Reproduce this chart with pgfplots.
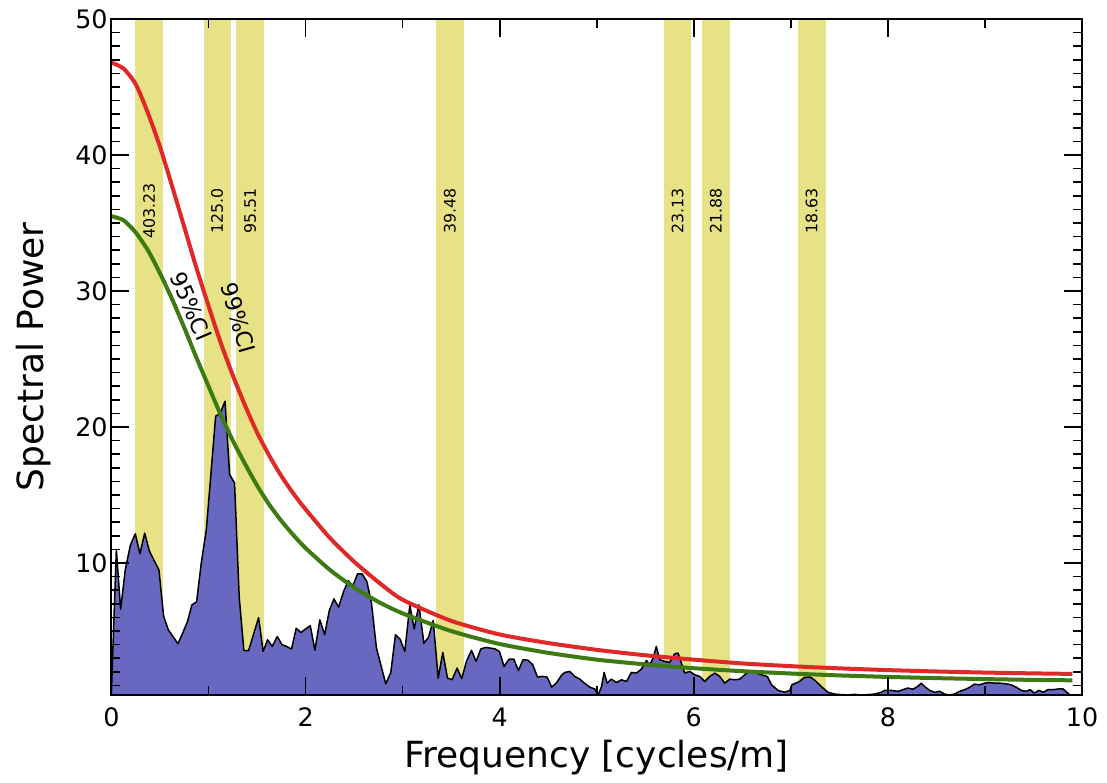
\documentclass[border=0pt]{standalone}
\usepackage{fontspec}
\setmainfont{DejaVu Sans}
\usepackage{pgfplots}
\pgfplotsset{compat=1.18}
\definecolor{bandc}{RGB}{232,226,134}
\definecolor{specblue}{RGB}{104,104,192}
\definecolor{cired}{RGB}{225,40,40}
\definecolor{cigreen}{RGB}{60,122,18}
\begin{document}
\begin{tikzpicture}
\begin{axis}[
  at={(0,0)}, anchor=south west,
  scale only axis, width=485.25pt, height=338pt,
  xmin=0, xmax=10, ymin=0.3, ymax=50,
  axis on top,
  axis line style={line width=1pt},
  xtick={0,2,4,6,8,10}, minor xtick={1,3,5,7,9},
  ytick={10,20,30,40,50},
  minor ytick={1,2,3,4,5,6,7,8,9,11,12,13,14,15,16,17,18,19,21,22,23,24,25,26,27,28,29,31,32,33,34,35,36,37,38,39,41,42,43,44,45,46,47,48,49},
  tick pos=both, tick align=inside,
  major tick length=9pt, minor tick length=4.5pt,
  every tick/.style={black, line width=0.8pt},
  ticklabel style={font=\fontsize{12.7}{15}\selectfont},
  /pgf/number format/assume math mode=true,
  yticklabel style={inner sep=0pt, xshift=-1.75pt},
  xticklabel style={inner sep=0pt, yshift=-6.25pt},
  xlabel={Frequency [cycles/m]}, ylabel={Spectral Power},
  label style={font=\fontsize{18}{22}\selectfont},
  xlabel style={at={(axis description cs:0.5,-0.1065)}, anchor=base},
  ylabel style={at={(axis description cs:-0.0696,0.5)}, anchor=base},
]
% significance bands
\addplot[fill=bandc, draw=none] coordinates {(0.245,0) (0.245,51) (0.530,51) (0.530,0)} -- cycle;
\addplot[fill=bandc, draw=none] coordinates {(0.950,0) (0.950,51) (1.228,51) (1.228,0)} -- cycle;
\addplot[fill=bandc, draw=none] coordinates {(1.285,0) (1.285,51) (1.571,51) (1.571,0)} -- cycle;
\addplot[fill=bandc, draw=none] coordinates {(3.342,0) (3.342,51) (3.630,51) (3.630,0)} -- cycle;
\addplot[fill=bandc, draw=none] coordinates {(5.690,0) (5.690,51) (5.975,51) (5.975,0)} -- cycle;
\addplot[fill=bandc, draw=none] coordinates {(6.085,0) (6.085,51) (6.370,51) (6.370,0)} -- cycle;
\addplot[fill=bandc, draw=none] coordinates {(7.073,0) (7.073,51) (7.358,51) (7.358,0)} -- cycle;
% spectrum
\addplot[fill=specblue, draw=black, line width=0.75pt, line join=round] coordinates {
(0.000,0.7) (0.050,11.0) (0.094,6.6) (0.142,9.5) (0.194,11.3) (0.245,12.15) (0.293,10.7)
(0.342,12.2) (0.390,10.9) (0.438,10.2) (0.489,9.5) (0.537,6.1) (0.585,5.1) (0.633,4.6)
(0.685,4.07) (0.733,4.85) (0.781,5.66) (0.829,6.93) (0.877,7.15) (0.925,10.0) (0.977,12.45)
(1.025,16.6) (1.073,20.8) (1.120,21.0) (1.170,21.9) (1.217,16.5) (1.268,15.9) (1.316,7.5)
(1.364,3.57) (1.413,3.57) (1.516,6.0) (1.562,3.5) (1.608,4.36) (1.656,3.87) (1.708,4.6)
(1.756,4.0) (1.804,3.87) (1.855,3.68) (1.903,5.2) (1.952,4.9) (2.000,5.15) (2.048,5.4)
(2.096,3.6) (2.147,5.83) (2.196,4.73) (2.244,6.5) (2.292,7.37) (2.340,6.76) (2.391,7.9)
(2.439,8.7) (2.487,8.35) (2.535,9.2) (2.583,9.2) (2.631,8.65) (2.679,7.06) (2.730,3.75)
(2.778,2.45) (2.826,1.12) (2.878,1.96) (2.926,4.73) (2.974,4.4) (3.022,3.5) (3.074,6.9)
(3.119,5.15) (3.167,6.93) (3.219,4.1) (3.267,4.55) (3.315,5.78) (3.366,1.54) (3.414,3.43)
(3.462,1.54) (3.510,1.42) (3.561,2.28) (3.609,1.5) (3.657,2.77) (3.709,3.58) (3.757,2.77)
(3.805,3.68) (3.853,3.8) (3.901,3.75) (3.949,3.7) (3.997,3.5) (4.045,2.4) (4.097,2.94)
(4.145,2.94) (4.193,2.1) (4.241,2.9) (4.293,2.85) (4.341,2.52) (4.389,1.62) (4.437,1.67)
(4.488,1.62) (4.536,0.88) (4.584,1.18) (4.636,1.74) (4.670,1.96) (4.722,2.03) (4.773,1.67)
(4.825,1.47) (4.873,1.17) (4.928,0.88) (4.980,0.74) (5.014,0.3) (5.048,0.88) (5.076,1.96)
(5.107,1.17) (5.151,1.47) (5.203,1.22) (5.255,1.42) (5.306,1.29) (5.358,1.96) (5.408,1.91)
(5.460,2.2) (5.512,2.84) (5.546,2.52) (5.580,3.0) (5.614,3.87) (5.649,2.89) (5.700,2.77)
(5.752,2.7) (5.803,3.33) (5.838,3.38) (5.872,2.65) (5.906,1.91) (5.958,2.03) (6.010,1.79)
(6.061,1.67) (6.113,1.29) (6.164,1.67) (6.216,1.91) (6.267,1.67) (6.319,1.17) (6.370,1.47)
(6.422,1.42) (6.473,1.47) (6.525,1.79) (6.576,2.1) (6.628,1.96) (6.696,1.79) (6.758,1.66)
(6.800,1.05) (6.868,0.64) (6.937,0.5) (6.989,0.64) (7.010,1.05) (7.066,1.22) (7.090,1.3)
(7.140,1.6) (7.200,1.62) (7.245,1.4) (7.313,0.93) (7.382,0.5) (7.450,0.37) (7.519,0.33)
(7.588,0.3) (7.656,0.35) (7.725,0.3) (7.794,0.33) (7.862,0.37) (7.931,0.5) (7.965,0.64)
(8.034,0.64) (8.103,0.57) (8.154,0.69) (8.206,0.81) (8.257,0.73) (8.308,0.93) (8.343,1.17)
(8.378,0.93) (8.430,0.64) (8.481,0.5) (8.533,0.57) (8.584,0.37) (8.636,0.3) (8.687,0.37)
(8.739,0.57) (8.790,0.69) (8.841,0.86) (8.893,1.1) (8.944,1.05) (8.996,1.17) (9.047,1.22)
(9.099,1.17) (9.150,1.17) (9.218,1.12) (9.270,1.05) (9.321,0.88) (9.373,0.64) (9.424,0.57)
(9.465,0.69) (9.510,0.44) (9.555,0.64) (9.602,0.5) (9.647,0.69) (9.699,0.69) (9.750,0.74)
(9.802,0.76) (9.853,0.44) (9.887,0.25)
} \closedcycle;
% 99% confidence curve
\addplot[cired, line width=2pt, smooth, tension=0.4] coordinates {
(0.000,46.8) (0.125,46.35) (0.250,45.2) (0.375,43.1) (0.500,40.6) (0.625,37.7)
(0.750,34.7) (0.875,31.7) (1.000,28.9) (1.125,26.2) (1.250,23.8) (1.375,21.6)
(1.500,19.6) (1.625,17.9) (1.750,16.4) (1.875,15.1) (2.000,13.95) (2.250,11.85)
(2.500,10.1) (2.750,8.6) (3.000,7.3) (3.500,5.75) (4.000,4.75) (4.500,4.12)
(5.000,3.62) (5.500,3.22) (6.000,2.9) (6.500,2.62) (7.000,2.42) (7.500,2.26)
(8.000,2.13) (8.500,2.03) (9.000,1.95) (9.500,1.89) (9.900,1.85)
};
% 95% confidence curve
\addplot[cigreen, line width=2pt, smooth, tension=0.4] coordinates {
(0.000,35.5) (0.125,35.2) (0.250,34.3) (0.375,33.0) (0.500,31.3) (0.625,29.4)
(0.750,27.3) (0.875,25.1) (1.000,23.0) (1.125,20.9) (1.250,19.0) (1.375,17.3)
(1.500,15.7) (1.625,14.3) (1.750,13.1) (1.875,12.05) (2.000,11.1) (2.250,9.5)
(2.500,8.2) (2.750,7.15) (3.000,6.3) (3.500,5.0) (4.000,4.05) (4.500,3.4)
(5.000,2.9) (5.500,2.55) (6.000,2.27) (6.500,2.05) (7.000,1.88) (7.500,1.74)
(8.000,1.63) (8.500,1.54) (9.000,1.47) (9.500,1.41) (9.900,1.38)
};
% band labels (periods)
\node[rotate=90, font=\fontsize{7.9}{9}\selectfont] at (axis cs:0.387,35.9) {403.23};
\node[rotate=90, font=\fontsize{7.9}{9}\selectfont] at (axis cs:1.089,35.9) {125.0};
\node[rotate=90, font=\fontsize{7.9}{9}\selectfont] at (axis cs:1.428,35.9) {95.51};
\node[rotate=90, font=\fontsize{7.9}{9}\selectfont] at (axis cs:3.486,35.9) {39.48};
\node[rotate=90, font=\fontsize{7.9}{9}\selectfont] at (axis cs:5.832,35.9) {23.13};
\node[rotate=90, font=\fontsize{7.9}{9}\selectfont] at (axis cs:6.228,35.9) {21.88};
\node[rotate=90, font=\fontsize{7.9}{9}\selectfont] at (axis cs:7.215,35.9) {18.63};
% CI labels
\node[rotate=-67, font=\fontsize{11.2}{13}\selectfont] at (axis cs:0.82,28.9) {95\%CI};
\node[rotate=-74, font=\fontsize{11.2}{13}\selectfont] at (axis cs:1.31,28.0) {99\%CI};
\end{axis}
\path (-55.75pt,-43.5pt) rectangle (497.75pt,347.5pt);
\end{tikzpicture}
\end{document}
